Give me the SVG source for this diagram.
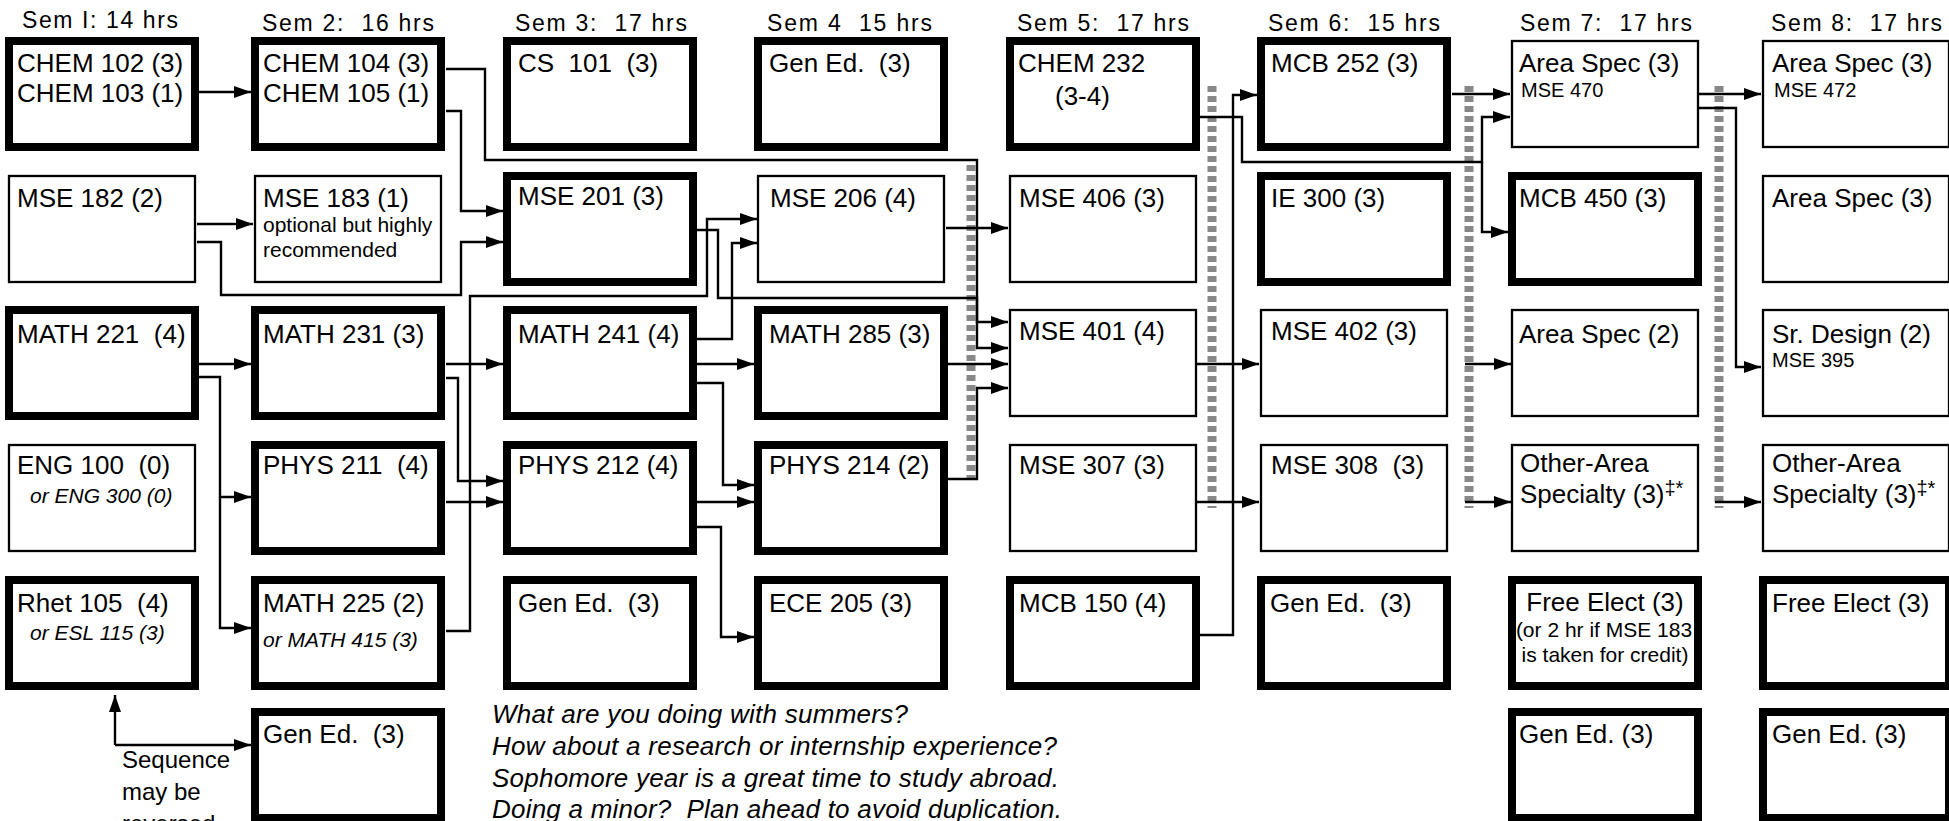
<svg xmlns="http://www.w3.org/2000/svg" width="1949" height="821" viewBox="0 0 1949 821">
<style>
.bk{fill:#fff;stroke:#000;stroke-width:8}
.bn{fill:#fff;stroke:#000;stroke-width:2.3}
text{font-family:"Liberation Sans",Arial,Helvetica,sans-serif;fill:#000;white-space:pre}
.m{font-size:26px}
.s{font-size:21px}
.xs{font-size:20px}
.i{font-size:21px;font-style:italic}
.h{font-size:23px}
.q{font-size:24px}
.b{font-size:26px;font-style:italic}
.c{fill:none;stroke:#000;stroke-width:2.4}
.a{marker-end:url(#ah)}
.d{fill:none;stroke:#888;stroke-width:9;stroke-dasharray:6 4}
</style>
<defs>
<marker id="ah" markerUnits="userSpaceOnUse" markerWidth="17" markerHeight="12" refX="17" refY="6" orient="auto"><path d="M0,0 L17,6 L0,12 z" fill="#000"/></marker>
</defs>
<rect width="1949" height="821" fill="#fff"/>
<g id="titles">
<text class="h" x="22" y="28" textLength="156" lengthAdjust="spacing">Sem I: 14 hrs</text>
<text class="h" x="262" y="31" textLength="172" lengthAdjust="spacing">Sem 2:  16 hrs</text>
<text class="h" x="515" y="31" textLength="172" lengthAdjust="spacing">Sem 3:  17 hrs</text>
<text class="h" x="767" y="31" textLength="165" lengthAdjust="spacing">Sem 4  15 hrs</text>
<text class="h" x="1017" y="31" textLength="172" lengthAdjust="spacing">Sem 5:  17 hrs</text>
<text class="h" x="1268" y="31" textLength="172" lengthAdjust="spacing">Sem 6:  15 hrs</text>
<text class="h" x="1520" y="31" textLength="172" lengthAdjust="spacing">Sem 7:  17 hrs</text>
<text class="h" x="1771" y="31" textLength="171" lengthAdjust="spacing">Sem 8:  17 hrs</text>
</g>
<g id="dividers">
<line class="d" x1="971" y1="165" x2="971" y2="478"/>
<line class="d" x1="1212" y1="86" x2="1212" y2="508"/>
<line class="d" x1="1469" y1="86" x2="1469" y2="508"/>
<line class="d" x1="1719" y1="86" x2="1719" y2="508"/>
</g>
<g id="connectors">
<path class="c a" d="M199,92 H251"/>
<path class="c a" d="M446,69 H485 V160 H977 V322 H1008"/>
<path class="c a" d="M446,111 H461 V211 H503"/>
<path class="c a" d="M197,224 H253"/>
<path class="c a" d="M197,242 H221 V295 H461 V242 H503"/>
<path class="c a" d="M697,230 H718 V298 H977 V348 H1008"/>
<path class="c a" d="M446,631 H470 V296 H707 V219 H757"/>
<path class="c a" d="M697,339 H732 V243 H757"/>
<path class="c a" d="M946,228 H1008"/>
<path class="c a" d="M199,364 H251"/>
<path class="c a" d="M199,377 H220 V497 H251"/>
<path class="c a" d="M220,497 V628 H251"/>
<path class="c a" d="M446,364 H503"/>
<path class="c a" d="M446,378 H458 V481 H503"/>
<path class="c a" d="M446,502 H503"/>
<path class="c a" d="M697,364 H754"/>
<path class="c a" d="M697,383 H723 V485 H754"/>
<path class="c a" d="M948,364 H1008"/>
<path class="c a" d="M948,479 H977 V388 H1008"/>
<path class="c a" d="M697,502 H754"/>
<path class="c a" d="M697,527 H721 V637 H754"/>
<path class="c a" d="M1200,117 H1242 V162 H1482 V117 H1510"/>
<path class="c a" d="M1482,162 V232 H1508"/>
<path class="c a" d="M1200,635 H1233 V95 H1257"/>
<path class="c a" d="M1452,94 H1510"/>
<path class="c a" d="M1197,364 H1259"/>
<path class="c a" d="M1197,502 H1259"/>
<path class="c a" d="M1465,364 H1511"/>
<path class="c a" d="M1465,502 H1511"/>
<path class="c a" d="M1699,94 H1761"/>
<path class="c a" d="M1699,108 H1736 V367 H1761"/>
<path class="c a" d="M1715,502 H1761"/>
<path class="c a" d="M115,745 V695"/>
<path class="c a" d="M115,745 H251"/>
</g>
<g id="n-chem102"><rect class="bk" x="9" y="41" width="186" height="106"/><text class="m" x="17" y="72">CHEM 102 (3)</text><text class="m" x="17" y="102">CHEM 103 (1)</text></g>
<g id="n-chem104"><rect class="bk" x="255" y="41" width="186" height="106"/><text class="m" x="263" y="72">CHEM 104 (3)</text><text class="m" x="263" y="102">CHEM 105 (1)</text></g>
<g id="n-cs101"><rect class="bk" x="507" y="41" width="186" height="106"/><text class="m" x="518" y="72">CS  101  (3)</text></g>
<g id="n-gened-s4"><rect class="bk" x="758" y="41" width="186" height="106"/><text class="m" x="769" y="72">Gen Ed.  (3)</text></g>
<g id="n-chem232"><rect class="bk" x="1010" y="41" width="186" height="106"/><text class="m" x="1018" y="72">CHEM 232</text><text class="m" x="1055" y="105">(3-4)</text></g>
<g id="n-mcb252"><rect class="bk" x="1261" y="41" width="186" height="106"/><text class="m" x="1271" y="72">MCB 252 (3)</text></g>
<g id="n-mse470"><rect class="bn" x="1512" y="41" width="186" height="106"/><text class="m" x="1519" y="72">Area Spec (3)</text><text class="xs" x="1521" y="97">MSE 470</text></g>
<g id="n-mse472"><rect class="bn" x="1763" y="41" width="186" height="106"/><text class="m" x="1772" y="72">Area Spec (3)</text><text class="xs" x="1774" y="97">MSE 472</text></g>

<g id="n-mse182"><rect class="bn" x="9" y="176" width="186" height="106"/><text class="m" x="17" y="207">MSE 182 (2)</text></g>
<g id="n-mse183"><rect class="bn" x="255" y="176" width="186" height="106"/><text class="m" x="263" y="207">MSE 183 (1)</text><text class="s" x="263" y="232">optional but highly</text><text class="s" x="263" y="257">recommended</text></g>
<g id="n-mse201"><rect class="bk" x="507" y="176" width="186" height="106"/><text class="m" x="518" y="205">MSE 201 (3)</text></g>
<g id="n-mse206"><rect class="bn" x="758" y="176" width="186" height="106"/><text class="m" x="770" y="207">MSE 206 (4)</text></g>
<g id="n-mse406"><rect class="bn" x="1010" y="176" width="186" height="106"/><text class="m" x="1019" y="207">MSE 406 (3)</text></g>
<g id="n-ie300"><rect class="bk" x="1261" y="176" width="186" height="106"/><text class="m" x="1271" y="207">IE 300 (3)</text></g>
<g id="n-mcb450"><rect class="bk" x="1512" y="176" width="186" height="106"/><text class="m" x="1519" y="207">MCB 450 (3)</text></g>
<g id="n-areaspec-s8"><rect class="bn" x="1763" y="176" width="186" height="106"/><text class="m" x="1772" y="207">Area Spec (3)</text></g>

<g id="n-math221"><rect class="bk" x="9" y="310" width="186" height="106"/><text class="m" x="17" y="343">MATH 221  (4)</text></g>
<g id="n-math231"><rect class="bk" x="255" y="310" width="186" height="106"/><text class="m" x="263" y="343">MATH 231 (3)</text></g>
<g id="n-math241"><rect class="bk" x="507" y="310" width="186" height="106"/><text class="m" x="518" y="343">MATH 241 (4)</text></g>
<g id="n-math285"><rect class="bk" x="758" y="310" width="186" height="106"/><text class="m" x="769" y="343">MATH 285 (3)</text></g>
<g id="n-mse401"><rect class="bn" x="1010" y="310" width="186" height="106"/><text class="m" x="1019" y="340">MSE 401 (4)</text></g>
<g id="n-mse402"><rect class="bn" x="1261" y="310" width="186" height="106"/><text class="m" x="1271" y="340">MSE 402 (3)</text></g>
<g id="n-areaspec2"><rect class="bn" x="1512" y="310" width="186" height="106"/><text class="m" x="1519" y="343">Area Spec (2)</text></g>
<g id="n-srdesign"><rect class="bn" x="1763" y="310" width="186" height="106"/><text class="m" x="1772" y="343">Sr. Design (2)</text><text class="xs" x="1772" y="367">MSE 395</text></g>

<g id="n-eng100"><rect class="bn" x="9" y="445" width="186" height="106"/><text class="m" x="17" y="474">ENG 100  (0)</text><text class="i" x="30" y="503">or ENG 300 (0)</text></g>
<g id="n-phys211"><rect class="bk" x="255" y="445" width="186" height="106"/><text class="m" x="263" y="474">PHYS 211  (4)</text></g>
<g id="n-phys212"><rect class="bk" x="507" y="445" width="186" height="106"/><text class="m" x="518" y="474">PHYS 212 (4)</text></g>
<g id="n-phys214"><rect class="bk" x="758" y="445" width="186" height="106"/><text class="m" x="769" y="474">PHYS 214 (2)</text></g>
<g id="n-mse307"><rect class="bn" x="1010" y="445" width="186" height="106"/><text class="m" x="1019" y="474">MSE 307 (3)</text></g>
<g id="n-mse308"><rect class="bn" x="1261" y="445" width="186" height="106"/><text class="m" x="1271" y="474">MSE 308  (3)</text></g>
<g id="n-other-s7"><rect class="bn" x="1512" y="445" width="186" height="106"/><text class="m" x="1520" y="472">Other-Area</text><text class="m" x="1520" y="503">Specialty (3)<tspan font-size="20" dy="-8">‡*</tspan></text></g>
<g id="n-other-s8"><rect class="bn" x="1763" y="445" width="186" height="106"/><text class="m" x="1772" y="472">Other-Area</text><text class="m" x="1772" y="503">Specialty (3)<tspan font-size="20" dy="-8">‡*</tspan></text></g>

<g id="n-rhet105"><rect class="bk" x="9" y="580" width="186" height="106"/><text class="m" x="17" y="612">Rhet 105  (4)</text><text class="i" x="30" y="640">or ESL 115 (3)</text></g>
<g id="n-math225"><rect class="bk" x="255" y="580" width="186" height="106"/><text class="m" x="263" y="612">MATH 225 (2)</text><text class="i" x="263" y="647">or MATH 415 (3)</text></g>
<g id="n-gened-s3"><rect class="bk" x="507" y="580" width="186" height="106"/><text class="m" x="518" y="612">Gen Ed.  (3)</text></g>
<g id="n-ece205"><rect class="bk" x="758" y="580" width="186" height="106"/><text class="m" x="769" y="612">ECE 205 (3)</text></g>
<g id="n-mcb150"><rect class="bk" x="1010" y="580" width="186" height="106"/><text class="m" x="1019" y="612">MCB 150 (4)</text></g>
<g id="n-gened-s6"><rect class="bk" x="1261" y="580" width="186" height="106"/><text class="m" x="1270" y="612">Gen Ed.  (3)</text></g>
<g id="n-free-s7"><rect class="bk" x="1512" y="580" width="186" height="106"/><text class="m" x="1605" y="611" text-anchor="middle">Free Elect (3)</text><text class="s" x="1604" y="637" text-anchor="middle">(or 2 hr if MSE 183</text><text class="s" x="1605" y="662" text-anchor="middle">is taken for credit)</text></g>
<g id="n-free-s8"><rect class="bk" x="1763" y="580" width="186" height="106"/><text class="m" x="1772" y="612">Free Elect (3)</text></g>

<g id="n-gened-s2"><rect class="bk" x="255" y="712" width="186" height="106"/><text class="m" x="263" y="743">Gen Ed.  (3)</text></g>
<g id="n-gened-s7"><rect class="bk" x="1512" y="712" width="186" height="106"/><text class="m" x="1519" y="743">Gen Ed. (3)</text></g>
<g id="n-gened-s8"><rect class="bk" x="1763" y="712" width="186" height="106"/><text class="m" x="1772" y="743">Gen Ed. (3)</text></g>

<g id="note-sequence"><text class="q" x="122" y="768">Sequence</text><text class="q" x="122" y="800">may be</text><text class="q" x="122" y="832">reversed</text></g>
<g id="note-summers">
<text class="b" x="492" y="723" textLength="416" lengthAdjust="spacing">What are you doing with summers?</text>
<text class="b" x="492" y="755" textLength="565" lengthAdjust="spacing">How about a research or internship experience?</text>
<text class="b" x="492" y="787" textLength="567" lengthAdjust="spacing">Sophomore year is a great time to study abroad.</text>
<text class="b" x="492" y="818" textLength="570" lengthAdjust="spacing">Doing a minor?  Plan ahead to avoid duplication.</text>
</g>
</svg>
